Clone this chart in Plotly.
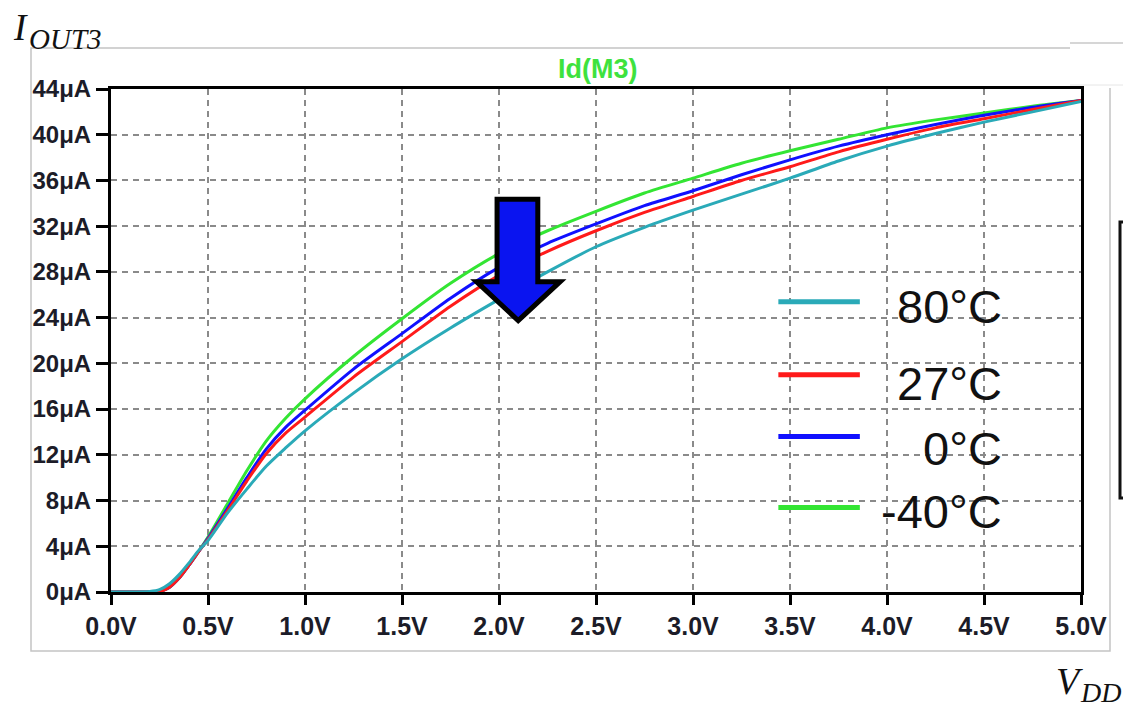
import plotly.graph_objects as go

# Supply voltage sweep (V)
vdd = [0.0, 0.2, 0.25, 0.3, 0.35, 0.4, 0.45, 0.5, 0.6, 0.7, 0.8, 0.9, 1.0,
       1.25, 1.5, 1.75, 2.0, 2.25, 2.5, 2.75, 3.0, 3.25, 3.5, 3.75, 4.0,
       4.25, 4.5, 4.75, 5.0]

# Drain current of M3 (uA) at each temperature
id_m40 = [0, 0, 0.05, 0.4, 1.2, 2.3, 3.5, 4.8, 7.7, 10.6, 13.2, 15.2, 16.9,
          20.6, 23.9, 27.0, 29.6, 31.6, 33.3, 34.9, 36.2, 37.5, 38.6, 39.6, 40.6,
          41.3, 41.9, 42.5, 43.0]
id_0 = [0, 0, 0.05, 0.4, 1.2, 2.3, 3.5, 4.7, 7.3, 10.0, 12.5, 14.4, 15.9,
        19.5, 22.6, 25.7, 28.4, 30.5, 32.2, 33.8, 35.1, 36.5, 37.8, 39.0, 40.0,
        40.9, 41.7, 42.4, 43.0]
id_27 = [0, 0, 0.03, 0.4, 1.2, 2.3, 3.5, 4.6, 7.1, 9.7, 12.1, 13.9, 15.3,
         18.8, 21.9, 25.0, 27.7, 29.8, 31.6, 33.2, 34.6, 36.0, 37.2, 38.5, 39.6,
         40.6, 41.4, 42.2, 43.0]
id_80 = [0, 0.05, 0.2, 0.7, 1.5, 2.5, 3.6, 4.5, 6.9, 9.0, 11.0, 12.6, 14.1,
         17.4, 20.4, 23.1, 25.6, 28.0, 30.2, 31.9, 33.4, 34.8, 36.2, 37.7, 39.0,
         40.1, 41.1, 42.0, 42.9]

temps = ["80°C", "27°C", "0°C", "-40°C"]
colors = ["#2aaab8", "#ff1a1a", "#1010ff", "#33e533"]
series = [id_80, id_27, id_0, id_m40]

y_ticks = list(range(0, 45, 4))
y_tick_text = [f"{v}μA" for v in y_ticks]
x_ticks = [i * 0.5 for i in range(11)]
x_tick_text = [f"{v:.1f}V" for v in x_ticks]

W, H = 1123, 711
L, R, T, B = 111, 1081, 89, 592


def px(x):
    return (x - L) / (R - L)


def py(y):
    return (B - y) / (B - T)


fig = go.Figure()

# draw in order so the 80°C curve sits on top
for name, col, ys in zip(temps[::-1], colors[::-1], series[::-1]):
    fig.add_trace(go.Scatter(x=vdd, y=ys, mode="lines", name=name,
                             line=dict(color=col, width=3, shape="spline", smoothing=0.7),
                             showlegend=False))

shapes = []
# outer frame of the waveform window
shapes.append(dict(type="path", xref="paper", yref="paper",
                   path=f"M {px(1070)},{py(48)} L {px(31)},{py(48)} L {px(31)},{py(651)} "
                        f"L {px(1110)},{py(651)} L {px(1110)},{py(88)}",
                   line=dict(color="#c4c4c4", width=1.5)))
shapes.append(dict(type="line", xref="paper", yref="paper",
                   x0=px(1070), x1=px(1123), y0=py(43), y1=py(43),
                   line=dict(color="#c8c8c8", width=1.5)))
shapes.append(dict(type="line", xref="paper", yref="paper",
                   x0=px(1070), x1=px(1123), y0=py(85), y1=py(85),
                   line=dict(color="#e6e6e6", width=1)))
# bracket at the right edge
shapes.append(dict(type="path", xref="paper", yref="paper",
                   path=f"M {px(1123)},{py(222)} L {px(1120)},{py(222)} L {px(1120)},{py(498)} L {px(1123)},{py(498)}",
                   line=dict(color="#111", width=3)))

# legend keys
legend_y = [25.4, 19.0, 13.6, 7.4]
for col, ly in zip(colors, legend_y):
    shapes.append(dict(type="line", xref="x", yref="y", x0=3.44, x1=3.86, y0=ly, y1=ly,
                       line=dict(color=col, width=5)))

# downward arrow marking the temperature trend
ax = [1.99, 2.20, 2.20, 2.315, 2.099, 1.884, 1.99]
ay = [34.35, 34.35, 27.15, 27.15, 23.75, 27.15, 27.15]
arrow_path = "M " + " L ".join(f"{a},{b}" for a, b in zip(ax, ay)) + " Z"
shapes.append(dict(type="path", xref="x", yref="y", path=arrow_path,
                   fillcolor="#0a14f0", line=dict(color="#000", width=5)))

annotations = []
legend_text_y = [306, 383, 448, 511]
for t, ty in zip(temps, legend_text_y):
    annotations.append(dict(text=t, xref="paper", yref="paper", x=px(1004), y=py(ty),
                            xanchor="right", yanchor="middle", showarrow=False,
                            font=dict(family="Liberation Sans, Arial", size=47, color="#111")))
annotations.append(dict(text="<b>Id(M3)</b>", xref="paper", yref="paper", x=px(597), y=py(69),
                        xanchor="center", yanchor="middle", showarrow=False,
                        font=dict(family="Liberation Sans, Arial", size=27, color="#3ee23e")))
serif = "Liberation Serif, Times New Roman, serif"
annotations.append(dict(text="<i>I</i>", xref="paper", yref="paper", x=px(11), y=py(28),
                        xanchor="left", yanchor="middle", showarrow=False,
                        font=dict(family=serif, size=37, color="#111")))
annotations.append(dict(text="<i>OUT3</i>", xref="paper", yref="paper", x=px(27), y=py(39),
                        xanchor="left", yanchor="middle", showarrow=False,
                        font=dict(family=serif, size=29, color="#111")))
annotations.append(dict(text="<i>V</i>", xref="paper", yref="paper", x=px(1054), y=py(681),
                        xanchor="left", yanchor="middle", showarrow=False,
                        font=dict(family=serif, size=38, color="#111")))
annotations.append(dict(text="<i>DD</i>", xref="paper", yref="paper", x=px(1078), y=py(692),
                        xanchor="left", yanchor="middle", showarrow=False,
                        font=dict(family=serif, size=28, color="#111")))

axis_common = dict(showline=True, linecolor="#000", linewidth=3, mirror=True,
                   ticks="outside", tickcolor="#000", tickwidth=3,
                   showgrid=True, gridcolor="#8a8a8a", gridwidth=1.5, griddash="6px,5px",
                   zeroline=False)

fig.update_layout(
    width=W, height=H,
    margin=dict(l=L, r=W - R, t=T, b=H - B),
    paper_bgcolor="#fff", plot_bgcolor="#fff",
    xaxis=dict(range=[0, 5], tickvals=x_ticks,
               ticktext=[f"<b>{t}</b>" for t in x_tick_text], ticklen=10,
               tickfont=dict(family="Liberation Sans, Arial", size=25, color="#1c1c28"),
               **axis_common),
    yaxis=dict(range=[0, 44], tickvals=y_ticks,
               ticktext=[f"<b>{t}</b>" for t in y_tick_text], ticklen=12,
               tickfont=dict(family="Liberation Sans, Arial", size=24, color="#1c1c28"),
               **axis_common),
    shapes=shapes,
    annotations=annotations,
)

fig.write_html("out.html")
